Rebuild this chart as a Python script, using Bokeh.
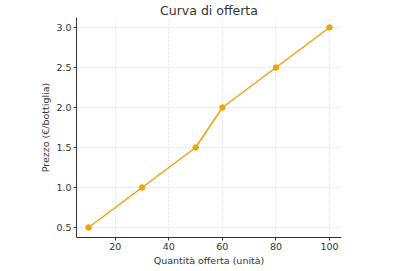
from bokeh.plotting import figure
from bokeh.models import Range1d, FixedTicker
from bokeh.embed import file_html
from bokeh.resources import INLINE

quantita = [10, 30, 50, 60, 80, 100]
prezzo = [0.5, 1.0, 1.5, 2.0, 2.5, 3.0]
x_ticks = [20, 40, 60, 80, 100]
y_ticks = [0.5, 1.0, 1.5, 2.0, 2.5, 3.0]

FONT = "DejaVu Sans"
ORANGE = "#f0a30a"

p = figure(width=420, height=271, output_backend="svg", toolbar_location=None,
           x_range=Range1d(5.5, 104.5), y_range=Range1d(0.375, 3.125),
           min_border_left=76, min_border_right=79, min_border_top=17, min_border_bottom=34)

p.title.text = "Curva di offerta"
p.title.align = "center"
p.title.text_font = FONT
p.title.text_font_size = "12.5px"
p.title.text_font_style = "normal"
p.title.text_color = "#333333"
p.title.standoff = 0
p.title.offset = 0

p.line(quantita, prezzo, line_color=ORANGE, line_width=1.5)
p.scatter(quantita, prezzo, size=5.5, fill_color=ORANGE, line_color=ORANGE)

p.xaxis.ticker = FixedTicker(ticks=x_ticks)
p.yaxis.ticker = FixedTicker(ticks=y_ticks)
p.yaxis.major_label_overrides = {v: f"{v:.1f}" for v in y_ticks}
p.xaxis.axis_label = "Quantità offerta (unità)"
p.yaxis.axis_label = "Prezzo (€/bottiglia)"

for ax in (p.xaxis, p.yaxis):
    ax.axis_label_text_font = FONT
    ax.axis_label_text_font_size = "9.5px"
    ax.axis_label_text_font_style = "normal"
    ax.axis_label_text_color = "#333333"
    ax.major_label_text_font = FONT
    ax.major_label_text_font_size = "9.5px"
    ax.major_label_text_color = "#333333"
    ax.axis_line_color = "#333333"
    ax.axis_line_width = 1
    ax.major_tick_line_color = "#333333"
    ax.major_tick_out = 3
    ax.major_tick_in = 0
    ax.minor_tick_line_color = None
    ax.major_label_standoff = 2
    ax.axis_label_standoff = 2

p.xgrid.grid_line_color = "#e3e3e3"
p.ygrid.grid_line_color = "#e3e3e3"
p.xgrid.grid_line_dash = "2 2"
p.ygrid.grid_line_dash = "2 2"
p.outline_line_color = None

open("out.html", "w").write(file_html(p, INLINE))
